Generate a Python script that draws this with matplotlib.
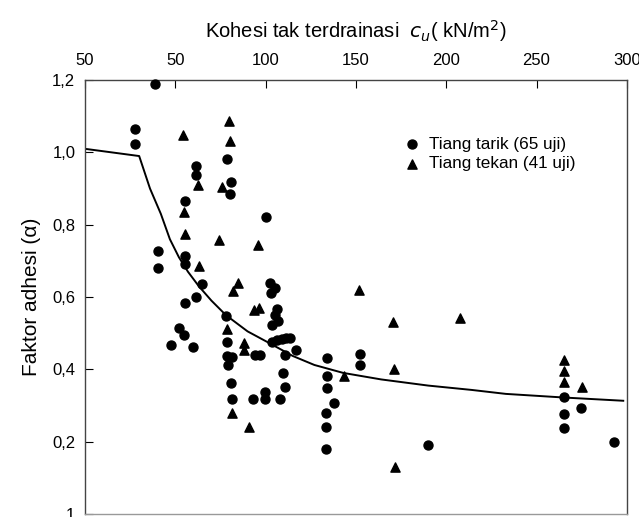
import numpy as np
import matplotlib
matplotlib.use("Agg")
import matplotlib.pyplot as plt

plt.rcParams['font.family'] = ['Liberation Sans', 'DejaVu Sans']

# Tiang tarik (circles)
tarik_cu = [39, 27.5, 27.9, 78.8, 61.7, 61.7, 80.6, 80.3, 55.2, 100.2,
            40.3, 40.3, 55.2, 55.6, 64.8, 102.3, 105.4, 103.0, 61.7, 55.2,
            78.0, 78.4, 51.8, 54.6, 47.4, 59.8, 106.3, 105.0, 106.9, 103.5,
            78.4, 81.2, 79.3, 94.2, 97.0, 103.5, 106.3, 109.1, 111.5, 113.7,
            117.0, 110.5, 109.4, 110.5, 108.1, 99.8, 99.8, 92.9, 80.8, 81.5,
            133.8, 133.8, 133.8, 137.9, 133.4, 133.4, 133.4, 152.3, 152.3, 189.9,
            265.2, 274.4, 265.0, 265.0, 293.0]
tarik_alpha = [1.19, 1.064, 1.024, 0.981, 0.963, 0.937, 0.919, 0.885, 0.867, 0.822,
               0.728, 0.679, 0.713, 0.690, 0.636, 0.638, 0.624, 0.610, 0.599, 0.584,
               0.548, 0.476, 0.515, 0.495, 0.467, 0.461, 0.567, 0.550, 0.534, 0.523,
               0.437, 0.433, 0.412, 0.440, 0.440, 0.476, 0.481, 0.483, 0.486, 0.486,
               0.453, 0.440, 0.391, 0.350, 0.318, 0.338, 0.317, 0.317, 0.361, 0.317,
               0.430, 0.382, 0.349, 0.308, 0.280, 0.241, 0.180, 0.441, 0.412, 0.191,
               0.323, 0.292, 0.276, 0.238, 0.200]

# Tiang tekan (triangles)
tekan_cu = [54.2, 79.9, 80.3, 62.6, 75.6, 54.6, 55.3, 74.0, 96.0, 63.2,
            84.5, 82.1, 78.4, 88.0, 88.0, 93.3, 96.6, 81.2, 91.0, 143.4,
            151.8, 170.4, 207.5, 171.3, 171.9, 265.2, 265.2, 265.2, 275.4]
tekan_alpha = [1.048, 1.087, 1.031, 0.910, 0.904, 0.836, 0.774, 0.758, 0.744, 0.686,
               0.640, 0.617, 0.512, 0.474, 0.454, 0.564, 0.570, 0.278, 0.241, 0.382,
               0.619, 0.532, 0.541, 0.401, 0.131, 0.426, 0.395, 0.366, 0.352]

# design curve
curve_cu = [0, 30, 36, 42, 47, 52, 57, 63, 70, 78, 90, 103, 115, 127,
            143, 164, 190, 214, 233, 265, 298]
curve_alpha = [1.01, 0.99, 0.90, 0.83, 0.76, 0.71, 0.67, 0.63, 0.59, 0.55,
               0.505, 0.47, 0.437, 0.412, 0.39, 0.372, 0.355, 0.343, 0.332,
               0.322, 0.313]

xticks = [0, 50, 100, 150, 200, 250, 300]
xtick_labels = ['50', '50', '100', '150', '200', '250', '300']
yticks = [0, 0.2, 0.4, 0.6, 0.8, 1.0, 1.2]
ytick_labels = ['1', '0,2', '0,4', '0,6', '0,8', '1,0', '1,2']

fig = plt.figure(figsize=(6.39, 5.17), dpi=100)
ax = fig.add_axes([0.133, 0.006, 0.848, 0.839])

ax.plot(curve_cu, curve_alpha, color='black', lw=1.4, zorder=2)
ax.scatter(tarik_cu, tarik_alpha, s=42, marker='o', color='black',
           label='Tiang tarik (65 uji)', zorder=3, clip_on=False)
ax.scatter(tekan_cu, tekan_alpha, s=44, marker='^', color='black',
           label='Tiang tekan (41 uji)', zorder=3, clip_on=False)

ax.set_xlim(0, 300)
ax.set_ylim(0, 1.2)
ax.xaxis.tick_top()
ax.xaxis.set_label_position('top')
ax.set_xticks(xticks)
ax.set_xticklabels(xtick_labels)
ax.set_yticks(yticks)
ax.set_yticklabels(ytick_labels)
ax.tick_params(axis='x', direction='in', length=6, labelsize=12, pad=9, top=True, bottom=False)
ax.tick_params(axis='y', direction='in', length=6, labelsize=12, pad=7, right=False)

for s in ax.spines.values():
    s.set_color('#444444')
    s.set_linewidth(1.0)
ax.spines['bottom'].set_color('#999999')

ax.set_xlabel('Kohesi tak terdrainasi  $c_u$( kN/m$^2$)', fontsize=14.5, labelpad=11)
ax.set_ylabel('Faktor adhesi (\u03b1)', fontsize=15, labelpad=8)

ax.legend(loc='upper left', bbox_to_anchor=(0.56, 0.905), frameon=False,
          fontsize=12.3, handletextpad=0.5, labelspacing=0.25, handlelength=1.0)

fig.savefig('out.png', dpi=100)
